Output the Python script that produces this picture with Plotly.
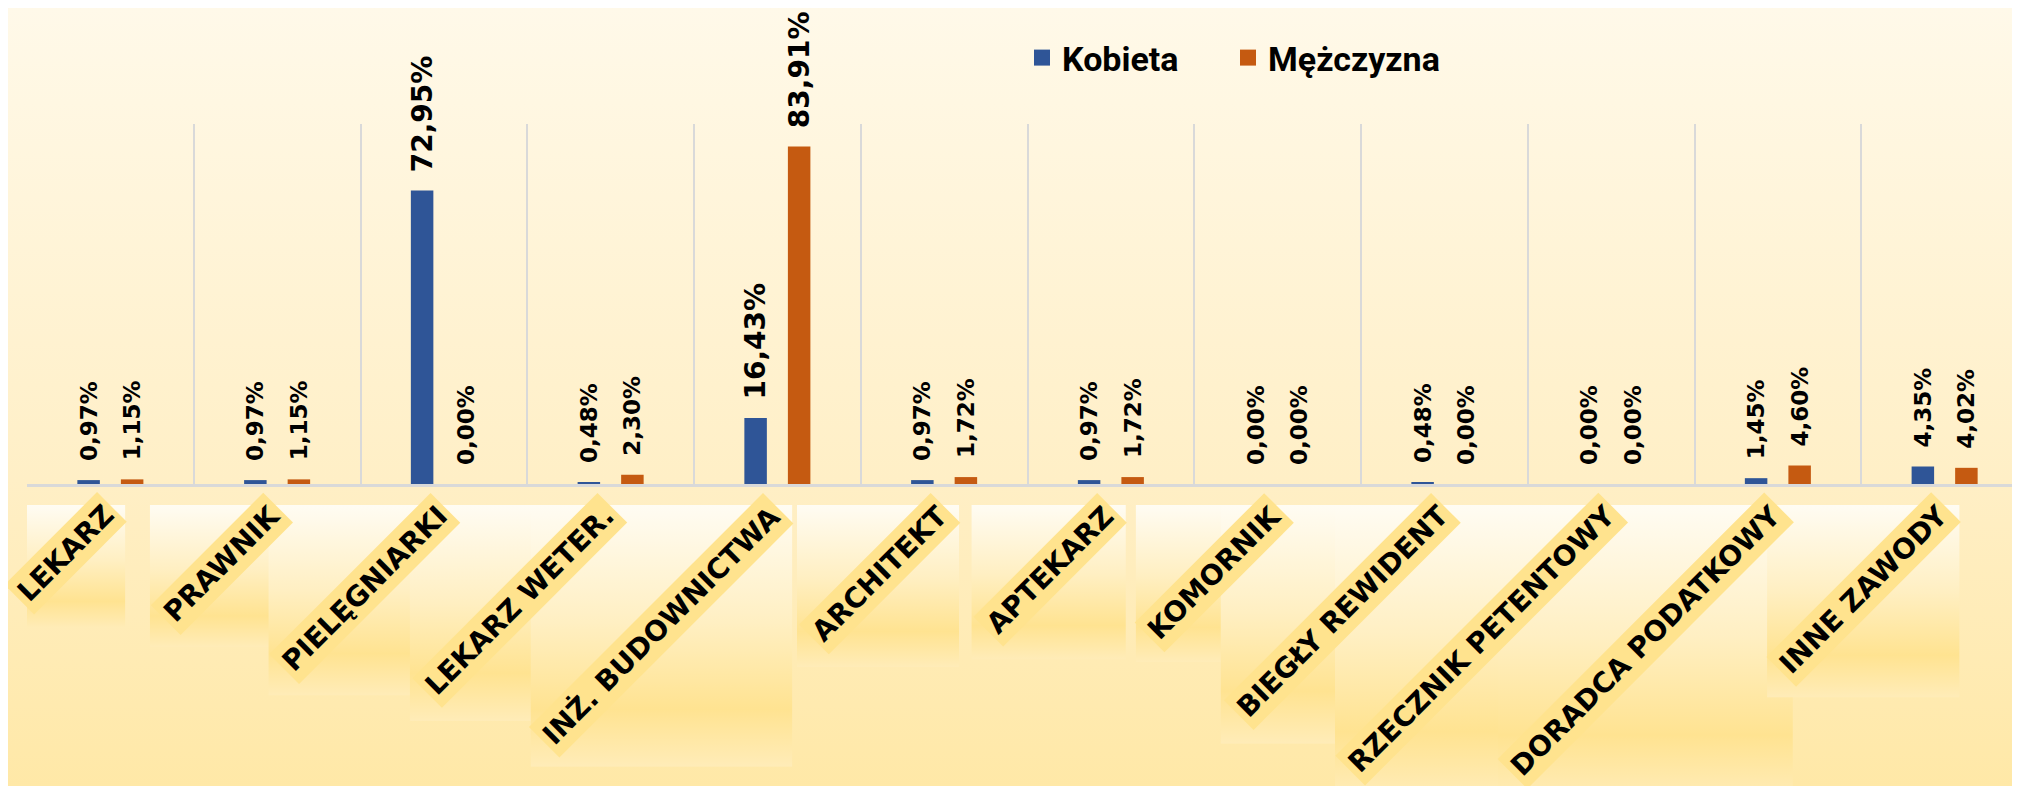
import base64
import math

import plotly.graph_objects as go

categories = [
    'LEKARZ', 'PRAWNIK', 'PIELĘGNIARKI', 'LEKARZ WETER.', 'INŻ. BUDOWNICTWA', 'ARCHITEKT',
    'APTEKARZ', 'KOMORNIK', 'BIEGŁY REWIDENT', 'RZECZNIK PETENTOWY', 'DORADCA PODATKOWY', 'INNE ZAWODY',
]
kobieta = [0.97, 0.97, 72.95, 0.48, 16.43, 0.97, 0.97, 0.00, 0.48, 0.00, 1.45, 4.35]
mezczyzna = [1.15, 1.15, 0.00, 2.30, 83.91, 1.72, 1.72, 0.00, 0.00, 0.00, 4.60, 4.02]
series_names = ['Kobieta', 'Mężczyzna']

BLUE = '#2F5597'
ORANGE = '#C55A11'
GRID = '#D9D9D9'

W, H = 2020, 786
M_L, M_R, M_T, M_B = 19, 0, 116, 310
PW, PH = W - M_L - M_R, H - M_T - M_B
CAT_PX = PW / len(categories)

LABEL_SIZE = 28
LABEL_PAD = 4
BOX_TOP_PX = 21        # gap between axis line and the gradient label boxes
LABEL_TOP_PX = 8       # gap between axis line and the label band
LABEL_SHIFT = 17

# legend symbol centres, px from the left edge of the figure
LEGEND_X_PX = [1036, 1242]
LEGEND_Y_PX = 50

# rough DejaVu Sans Bold advance widths (em)
CHAR_W = {' ': 0.348, '.': 0.38, 'I': 0.372, 'L': 0.637, 'Ł': 0.642, 'E': 0.683, 'Ę': 0.683,
          'T': 0.682, 'W': 1.103, 'M': 0.995, 'P': 0.733, 'S': 0.72, 'Y': 0.724, 'Z': 0.725, 'Ż': 0.725}


def pct(v):
    return f'{v:.2f}'.replace('.', ',') + '%'


def text_len(s, size):
    return size * sum(CHAR_W.get(ch, 0.79) for ch in s)


def gradient_uri(stops):
    parts = ''.join(f'<stop offset="{o}" stop-color="{c}"/>' for o, c in stops)
    svg = (
        '<svg xmlns="http://www.w3.org/2000/svg" width="100" height="100" preserveAspectRatio="none">'
        f'<defs><linearGradient id="g" x1="0" y1="0" x2="0" y2="1">{parts}</linearGradient></defs>'
        '<rect width="100" height="100" fill="url(#g)"/></svg>'
    )
    return 'data:image/svg+xml;base64,' + base64.b64encode(svg.encode('utf-8')).decode()


bg_uri = gradient_uri([(0, '#FFF9E9'), (0.6, '#FFEFC6'), (1, '#FFE8A6')])
box_uri = gradient_uri([(0, '#FFFCF3'), (0.45, '#FFEFC2'), (0.78, '#FFE391'), (1, '#FFECB8')])

fig = go.Figure()

legend_keys = ['legend', 'legend2']
for name, values, color, leg in zip(series_names, [kobieta, mezczyzna], [BLUE, ORANGE], legend_keys):
    big = [v > 10 for v in values]
    fig.add_trace(
        go.Bar(
            x=categories,
            y=values,
            name=name,
            showlegend=False,
            marker={'color': color, 'line': {'width': 0}},
            text=[pct(v) for v in values],
            texttemplate=['\u00a0\u2009%{text}' if b else '\u00a0\u00a0%{text}' for b in big],
            textposition='outside',
            textangle=-90,
            constraintext='none',
            cliponaxis=False,
            textfont={
                'family': 'DejaVu Sans, Verdana, sans-serif',
                'size': [28 if b else 23 for b in big],
                'color': '#000000',
                'weight': 'bold',
            },
            hovertemplate='%{x}<br>%{text}<extra>' + name + '</extra>',
        )
    )
    # legend entry with a larger square symbol
    fig.add_trace(
        go.Scatter(
            x=[None], y=[None], mode='markers', name=name, legend=leg,
            marker={'symbol': 'square', 'size': 20, 'color': color},
        )
    )

images = [
    dict(
        source=bg_uri, xref='paper', yref='paper',
        x=-M_L / PW, y=1 + M_T / PH, sizex=W / PW, sizey=H / PH,
        xanchor='left', yanchor='top', sizing='stretch', layer='below',
    )
]
annotations = []
for i, cat in enumerate(categories):
    length = text_len(cat, LABEL_SIZE)
    side = (length + LABEL_SIZE * 1.25 + 4 * LABEL_PAD) / math.sqrt(2)
    images.append(
        dict(
            source=box_uri, xref='x', yref='paper',
            x=i + (15 - side) / CAT_PX, y=-BOX_TOP_PX / PH,
            sizex=side / CAT_PX, sizey=side / PH,
            xanchor='left', yanchor='top', sizing='stretch', layer='below',
        )
    )
    annotations.append(
        dict(
            text=cat, x=cat, xref='x', y=-LABEL_TOP_PX / PH, yref='paper',
            xanchor='right', yanchor='top', xshift=LABEL_SHIFT,
            textangle=-45, showarrow=False,
            bgcolor='#FFE38E', borderpad=LABEL_PAD,
            font={'family': 'DejaVu Sans, Verdana, sans-serif', 'size': LABEL_SIZE,
                  'color': '#000000', 'weight': 'bold'},
        )
    )


def legend_box(x_px):
    return {
        'orientation': 'h',
        'x': (x_px - 22 - M_L) / PW, 'xanchor': 'left',
        'y': 1 + (M_T - LEGEND_Y_PX) / PH, 'yanchor': 'middle',
        'bgcolor': 'rgba(0,0,0,0)',
        'font': {'family': 'Roboto, Liberation Sans, sans-serif',
                 'size': 34, 'color': '#000000', 'weight': 'bold'},
        'itemclick': False,
    }


fig.update_layout(
    width=W,
    height=H,
    margin={'l': M_L, 'r': M_R, 't': M_T, 'b': M_B, 'pad': 0},
    paper_bgcolor='#FFF1CC',
    plot_bgcolor='rgba(0,0,0,0)',
    barmode='group',
    bargap=0.478,
    bargroupgap=0.483,
    images=images,
    annotations=annotations,
    showlegend=True,
    legend=legend_box(LEGEND_X_PX[0]),
    legend2=legend_box(LEGEND_X_PX[1]),
    xaxis={
        'type': 'category',
        'range': [-0.5, len(categories) - 0.5],
        'showticklabels': False,
        'tickson': 'boundaries',
        'ticks': '',
        'showgrid': True,
        'gridcolor': GRID,
        'gridwidth': 2,
        'showline': True,
        'linecolor': GRID,
        'linewidth': 3,
        'zeroline': False,
        'fixedrange': True,
    },
    yaxis={
        'range': [0, 89.5],
        'visible': False,
        'showgrid': False,
        'zeroline': False,
        'fixedrange': True,
    },
)

fig.write_html('out.html')
